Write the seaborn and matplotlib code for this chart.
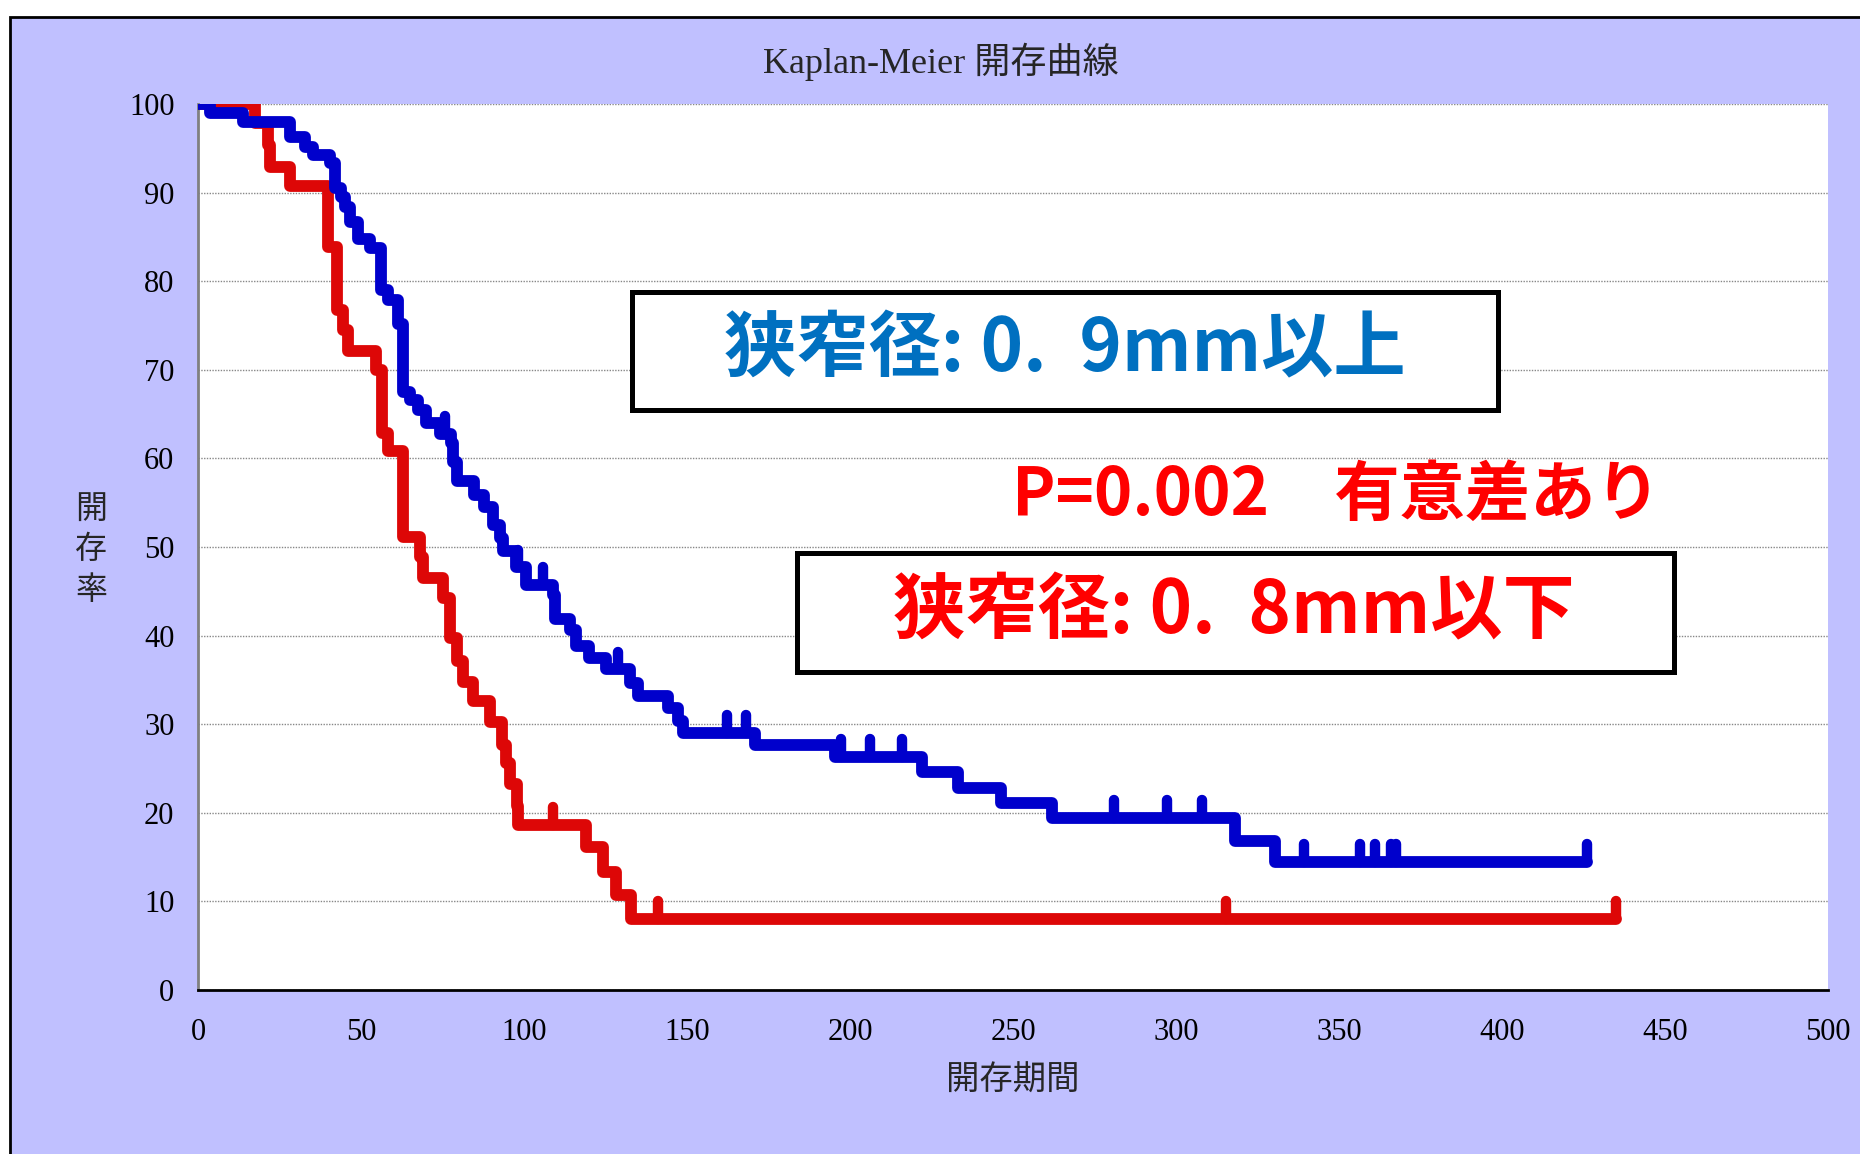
import numpy as np
import pandas as pd
import seaborn as sns
import matplotlib
matplotlib.use("Agg")
import matplotlib.pyplot as plt
from matplotlib.patches import Rectangle

# 狭窄径 0.9mm以上 (青)
blue_t = [0, 3.6, 13.8, 28.1, 32.7, 35.3, 40.4, 42.1, 44.0, 45.0, 46.5, 49.0, 52.7,
          56.2, 58.3, 61.3, 62.9, 64.9, 67.5, 70.0, 74.1, 77.7, 78.2, 79.3, 84.8,
          87.7, 90.5, 92.5, 93.6, 97.5, 100.7, 108.9, 109.4, 114.0, 116.0, 120.0,
          125.3, 132.5, 135.0, 144.2, 147.3, 148.8, 170.9, 195.5, 222.2, 233.1,
          246.2, 261.9, 318.0, 330.3, 426.0]
blue_s = [100, 99.0, 98.0, 96.3, 95.2, 94.2, 93.3, 90.5, 89.5, 88.4, 86.7, 84.8, 83.7,
          79.0, 77.9, 75.2, 67.5, 66.6, 65.5, 64.0, 62.8, 61.7, 59.6, 57.4, 55.9,
          54.5, 52.5, 51.0, 49.5, 47.7, 45.7, 44.6, 41.9, 40.6, 38.8, 37.5,
          36.2, 34.6, 33.2, 31.8, 30.4, 29.0, 27.7, 26.3, 24.6, 22.8,
          21.1, 19.4, 16.8, 14.5, 14.5]
blue_censor = [75.7, 98.2, 105.8, 128.9, 162.2, 168.1, 197.2, 206.2, 216.1, 281.1,
               297.1, 308.0, 339.2, 356.3, 361.1, 365.9, 367.5, 426.0]

# 狭窄径 0.8mm以下 (赤)
red_t = [0, 17.4, 21.5, 22.2, 28.1, 39.9, 42.5, 44.5, 46.0, 54.7, 56.4, 58.3, 62.9,
         68.0, 69.0, 75.2, 77.2, 79.3, 81.3, 84.4, 89.5, 93.1, 94.6, 95.6, 97.7,
         98.2, 119.1, 124.3, 128.3, 132.9, 434.9]
red_s = [100, 97.8, 95.4, 92.9, 90.7, 83.9, 76.8, 74.5, 72.1, 70.0, 62.9, 60.8, 51.1,
         48.9, 46.5, 44.3, 39.7, 37.1, 34.8, 32.6, 30.2, 27.6, 25.6, 23.2, 20.8,
         18.6, 16.1, 13.3, 10.7, 8.0, 8.0]
red_censor = [108.9, 141.2, 315.3, 434.9]

x_ticks = [0, 50, 100, 150, 200, 250, 300, 350, 400, 450, 500]
y_ticks = [0, 10, 20, 30, 40, 50, 60, 70, 80, 90, 100]

BLUE = "#0000CC"
RED = "#DD0707"

sns.set_style("white")
plt.rcParams['font.family'] = ['Liberation Serif', 'Noto Sans CJK JP']

fig = plt.figure(figsize=(18.6, 11.54), dpi=100)
fig.patch.set_facecolor("white")
# 背景枠
bg = Rectangle((10 / 1860, -0.05), 1.2, 1 - 17 / 1154 + 0.05,
               transform=fig.transFigure, facecolor="#C0C0FF",
               edgecolor="black", linewidth=2, zorder=-10)
fig.add_artist(bg)

ax = fig.add_axes([198 / 1860, 1 - 990 / 1154, 1630 / 1860, 886 / 1154])
ax.set_zorder(1)
ax.set_facecolor("white")

df_red = pd.DataFrame({"t": red_t, "s": red_s})
df_blue = pd.DataFrame({"t": blue_t, "s": blue_s})

sns.lineplot(data=df_red, x="t", y="s", ax=ax, color=RED, linewidth=8.5,
             drawstyle="steps-post", sort=False, estimator=None,
             solid_joinstyle="round", solid_capstyle="round", zorder=3)
sns.lineplot(data=df_blue, x="t", y="s", ax=ax, color=BLUE, linewidth=8.5,
             drawstyle="steps-post", sort=False, estimator=None,
             solid_joinstyle="round", solid_capstyle="round", zorder=4)

# 打ち切りマーク
for cens, tt, ss, col, z in [(red_censor, red_t, red_s, RED, 3),
                             (blue_censor, blue_t, blue_s, BLUE, 4)]:
    idx = np.searchsorted(tt, cens, side="right") - 1
    lv = np.array(ss)[idx]
    vl = ax.vlines(cens, lv, lv + 2.0, color=col, linewidth=7.5, zorder=z)
    vl.set_capstyle("round")

ax.set_xlim(0, 500)
ax.set_ylim(0, 100)
ax.set_xticks(x_ticks)
ax.set_yticks(y_ticks)
ax.tick_params(axis="both", length=0, labelsize=22, colors="black")
ax.tick_params(axis="x", pad=20)
ax.tick_params(axis="y", pad=17)

ax.yaxis.grid(True, linestyle=(0, (1, 1)), color="#888888", linewidth=1)
ax.xaxis.grid(False)
ax.set_axisbelow(True)
for s in ["top", "right"]:
    ax.spines[s].set_visible(False)
ax.spines["left"].set_color("#808080")
ax.spines["left"].set_linewidth(2)
ax.spines["bottom"].set_color("black")
ax.spines["bottom"].set_linewidth(2)

ax.set_xlabel("")
ax.set_ylabel("")
fig.text(941 / 1860, 1 - 62 / 1154, "Kaplan-Meier 開存曲線", ha="center", va="center",
         fontsize=26)
fig.text(1013 / 1860, 1 - 1081 / 1154, "開存期間", ha="center", va="center", fontsize=24)
fig.text(91 / 1860, 1 - 551 / 1154, "開\n存\n率", ha="center", va="center", fontsize=23,
         linespacing=1.5)

# 注釈ボックス
ax.add_patch(Rectangle((133.2, 65.5), 265.6, 13.3, facecolor="white", edgecolor="black",
                       linewidth=3.6, zorder=5))
ax.text(266.0, 72.2, "狭窄径: 0.  9mm以上", ha="center", va="center", color="#0070C0",
        fontsize=52, family="Noto Sans CJK JP", fontweight="bold", zorder=6)

ax.text(249.6, 55.8, "P=0.002\u3000有意差あり", ha="left", va="center", color="#FF0000",
        fontsize=47, family="Noto Sans CJK JP", fontweight="bold", zorder=6)

ax.add_patch(Rectangle((183.8, 35.9), 268.9, 13.4, facecolor="white", edgecolor="black",
                       linewidth=3.6, zorder=5))
ax.text(317.7, 42.6, "狭窄径: 0.  8mm以下", ha="center", va="center", color="#FF0000",
        fontsize=52, family="Noto Sans CJK JP", fontweight="bold", zorder=6)

fig.savefig("out.png", dpi=100)
